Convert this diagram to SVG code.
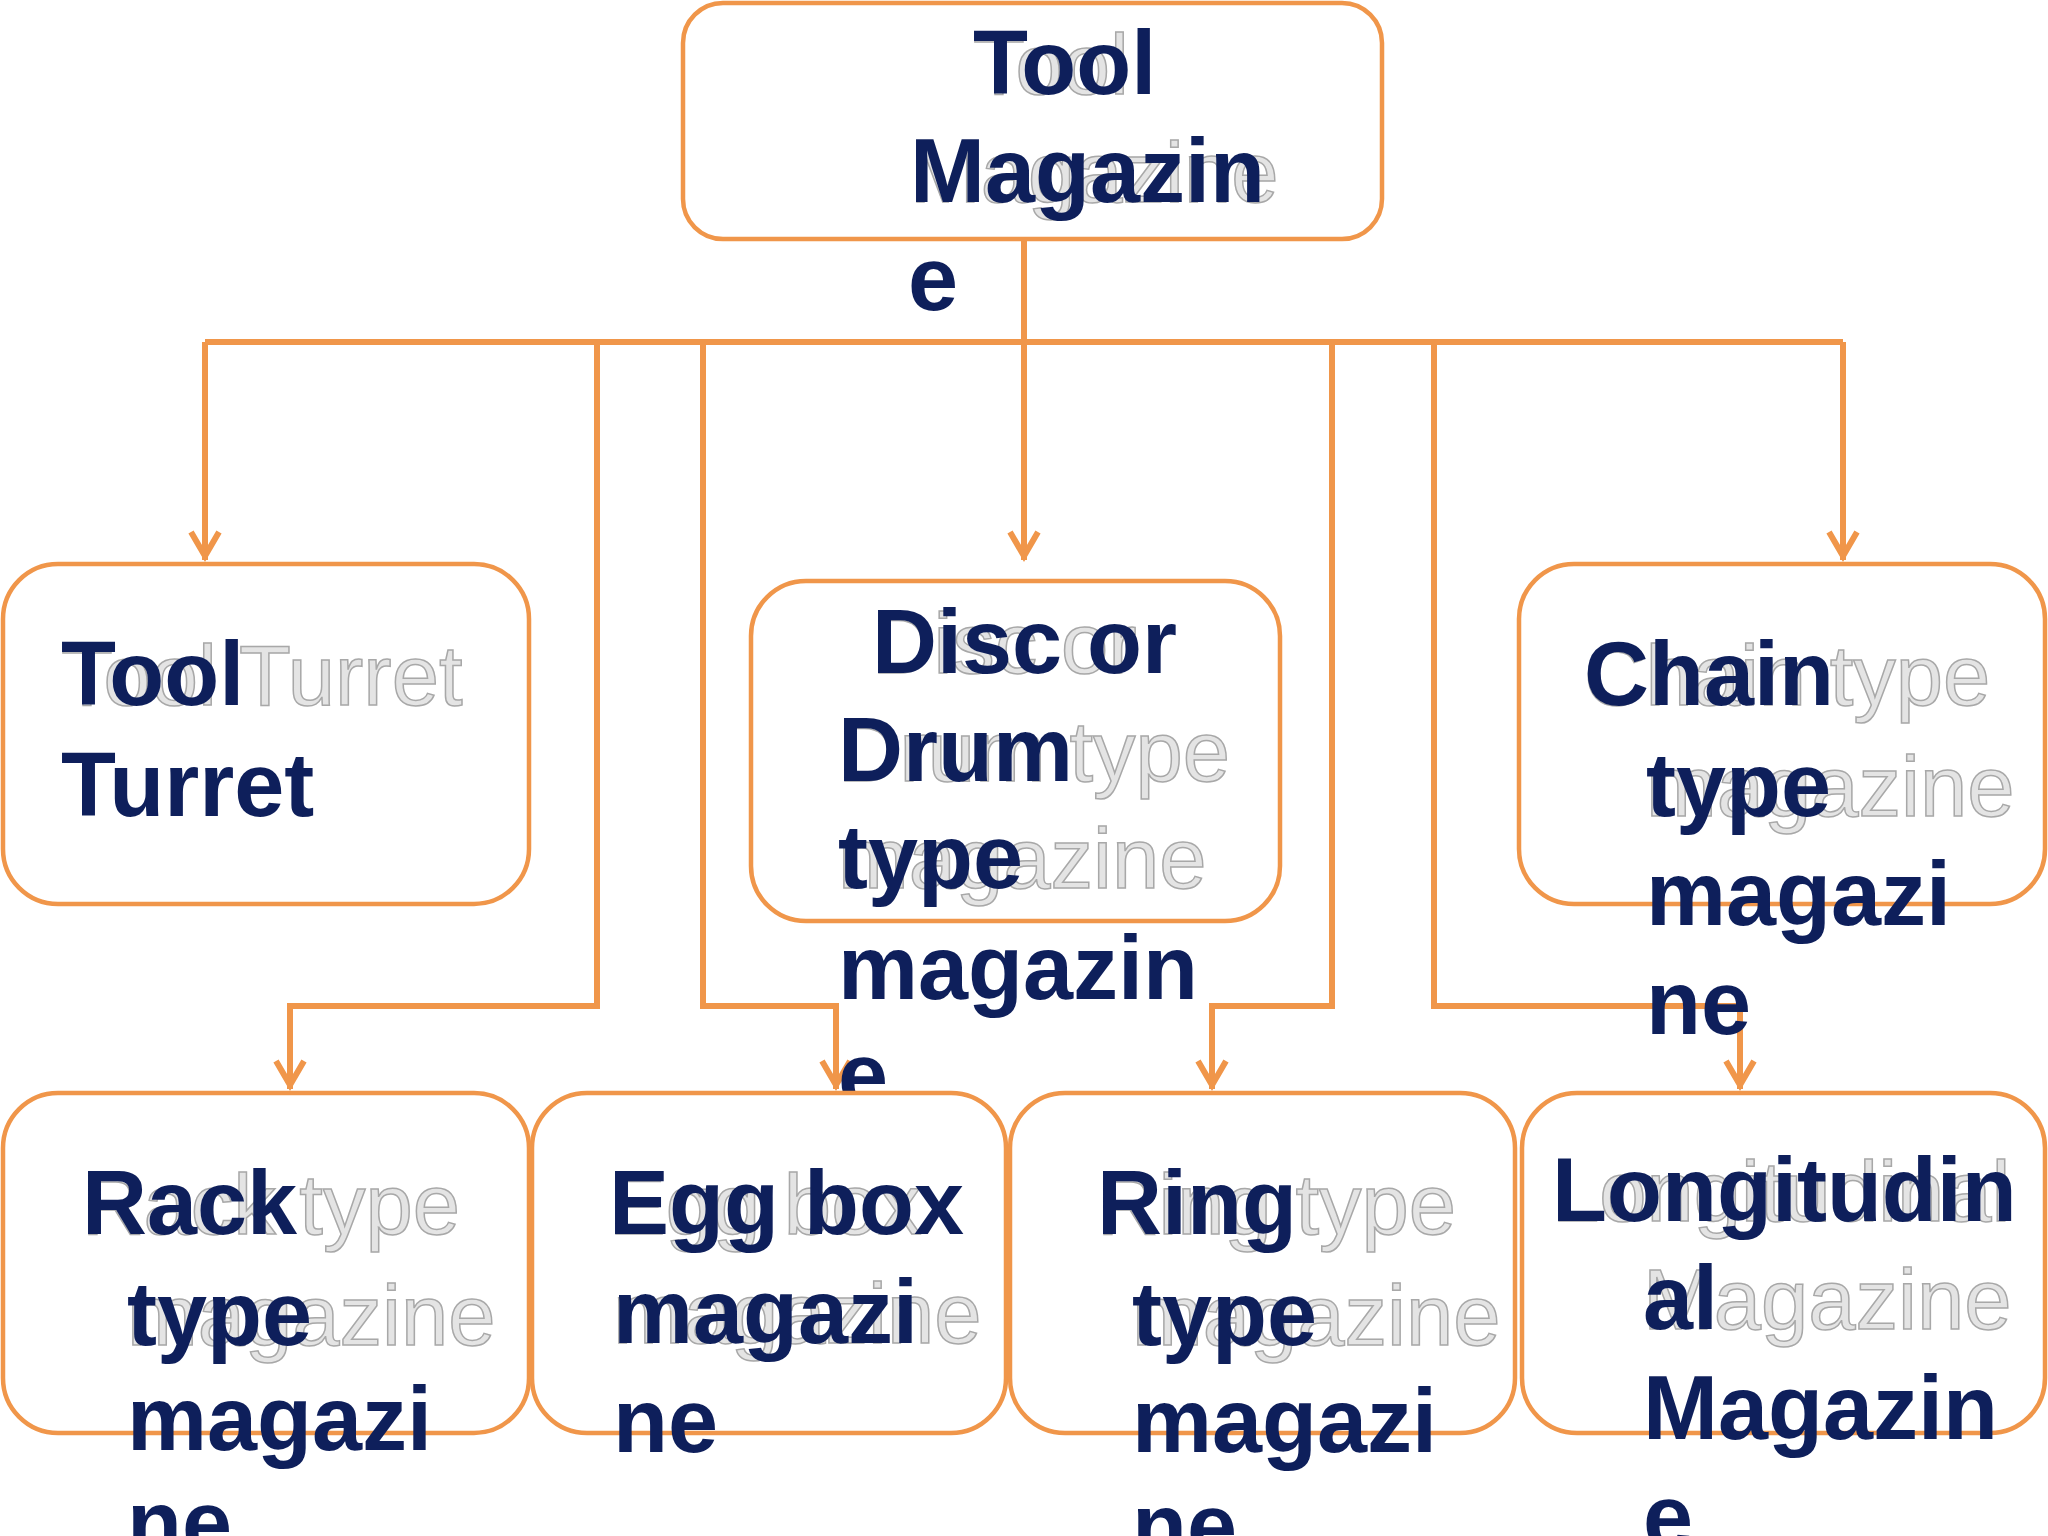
<svg xmlns="http://www.w3.org/2000/svg" width="2048" height="1536" viewBox="0 0 2048 1536">
<style>
.box{fill:#fff;stroke:#F0964A;stroke-width:4.5}
.c{fill:none;stroke:#F0964A;stroke-width:6}
.t{font-family:"Liberation Sans",Arial,sans-serif;font-weight:bold;font-size:90px;fill:#0E1F5B}
.g{font-family:"Liberation Sans",Arial,sans-serif;font-size:85px;fill:#e4e4e4;stroke:#a8a8a8;stroke-width:1.5}
</style>
<rect width="2048" height="1536" fill="#fff"/>
<g id="connectors">
<path class="c" d="M1024 239V342M205 342H1843M205 342V560M1024 342V560M1843 342V560M597 342V1006H290V1089M703 342V1006H836V1089M1332 342V1006H1212V1089M1434 342V1006H1740V1089"/>
<path class="c" d="M191 532L205 556L219 532M1010 532L1024 556L1038 532M1829 532L1843 556L1857 532M276 1061L290 1085L304 1061M822 1061L836 1085L850 1061M1198 1061L1212 1085L1226 1061M1726 1061L1740 1085L1754 1061"/>
</g>
<g id="root"><rect class="box" x="683" y="3" width="699" height="236" rx="40"/>
<text class="g" x="973" y="94">Tool</text><text class="g" x="910" y="202">Magazine</text>
<text class="t" x="973" y="94">Tool</text><text class="t" x="910" y="202">Magazin</text><text class="t" x="908" y="310">e</text></g>
<g id="turret"><rect class="box" x="3" y="564" width="526" height="340" rx="55"/>
<text class="g" x="61" y="705">Tool Turret</text>
<text class="t" x="61" y="705">Tool</text><text class="t" x="61" y="816">Turret</text></g>
<g id="disc"><rect class="box" x="751" y="581" width="529" height="340" rx="55"/>
<text class="g" x="872" y="673">Disc or</text><text class="g" x="838" y="781">Drum type</text><text class="g" x="838" y="888">magazine</text>
<text class="t" x="872" y="673">Disc or</text><text class="t" x="838" y="781">Drum</text><text class="t" x="838" y="888">type</text><text class="t" x="838" y="999">magazin</text><text class="t" x="838" y="1106">e</text></g>
<g id="chain"><rect class="box" x="1519" y="564" width="526" height="340" rx="55"/>
<text class="g" x="1584" y="705">Chain type</text><text class="g" x="1646" y="816">magazine</text>
<text class="t" x="1584" y="705">Chain</text><text class="t" x="1646" y="816">type</text><text class="t" x="1646" y="925">magazi</text><text class="t" x="1646" y="1034">ne</text></g>
<g id="rack"><rect class="box" x="3" y="1093" width="526" height="340" rx="55"/>
<text class="g" x="82" y="1234">Rack type</text><text class="g" x="127" y="1345">magazine</text>
<text class="t" x="82" y="1234">Rack</text><text class="t" x="127" y="1345">type</text><text class="t" x="127" y="1450">magazi</text><text class="t" x="127" y="1554">ne</text></g>
<g id="egg"><rect class="box" x="532" y="1093" width="474" height="340" rx="55"/>
<text class="g" x="609" y="1234">Egg box</text><text class="g" x="613" y="1343">magazine</text>
<text class="t" x="609" y="1234">Egg box</text><text class="t" x="613" y="1343">magazi</text><text class="t" x="613" y="1452">ne</text></g>
<g id="ring"><rect class="box" x="1010" y="1093" width="505" height="340" rx="55"/>
<text class="g" x="1097" y="1234">Ring type</text><text class="g" x="1132" y="1345">magazine</text>
<text class="t" x="1097" y="1234">Ring</text><text class="t" x="1132" y="1345">type</text><text class="t" x="1132" y="1452">magazi</text><text class="t" x="1132" y="1557">ne</text></g>
<g id="longitudinal"><rect class="box" x="1522" y="1093" width="523" height="340" rx="55"/>
<text class="g" x="1552" y="1221">Longitudinal</text><text class="g" x="1643" y="1329">Magazine</text>
<text class="t" x="1552" y="1221">Longitudin</text><text class="t" x="1643" y="1329">al</text><text class="t" x="1643" y="1439">Magazin</text><text class="t" x="1643" y="1548">e</text></g>
</svg>
